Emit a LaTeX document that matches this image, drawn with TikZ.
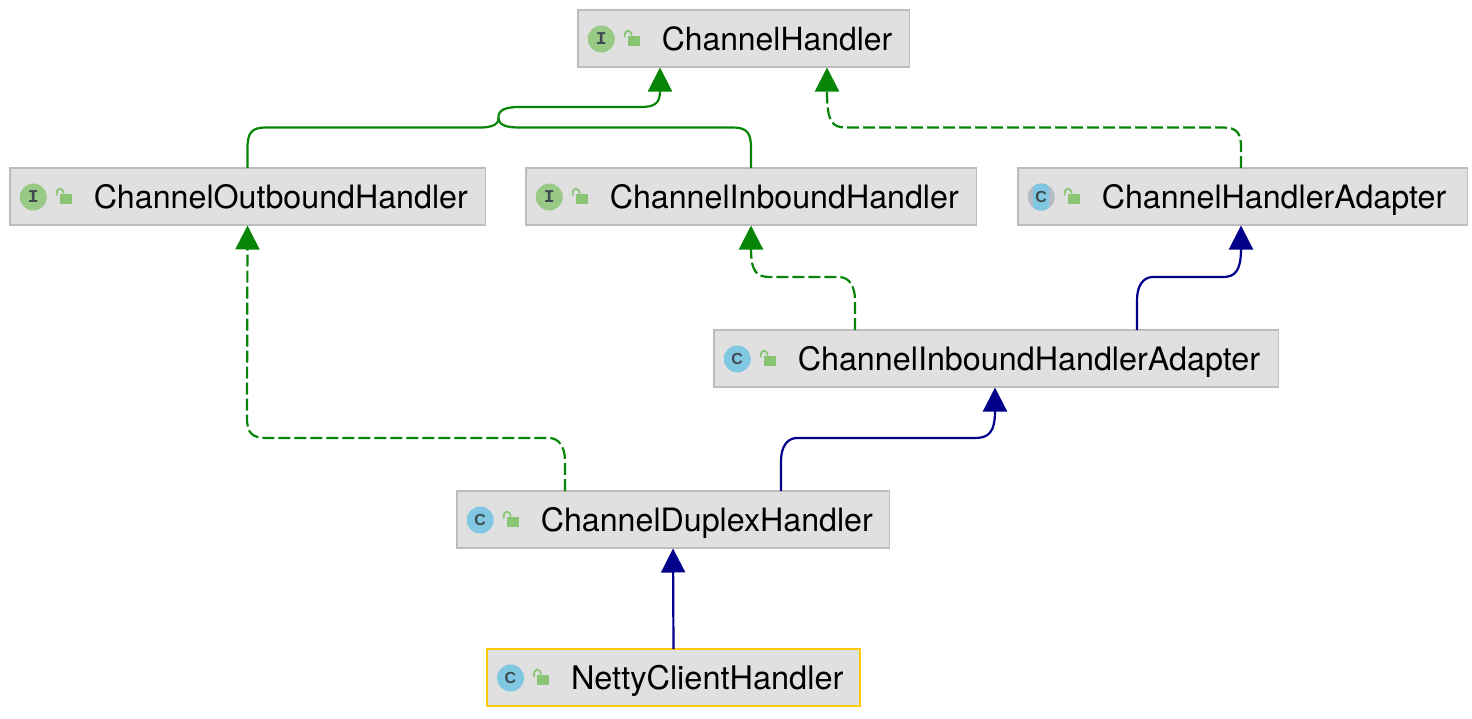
\documentclass[tikz,border=0pt]{standalone}
\usepackage{fontspec}
\setmainfont{TeX Gyre Heros}
\newfontfamily\iconmono{Liberation Mono}
\newfontfamily\iconsans{Liberation Sans}
\usetikzlibrary{arrows.meta}
\definecolor{boxfill}{HTML}{E0E0E0}
\definecolor{boxedge}{HTML}{BDBDBD}
\definecolor{selectedge}{HTML}{FDCB0A}
\definecolor{implgreen}{HTML}{078507}
\definecolor{extblue}{HTML}{00008B}
\definecolor{ifacegreen}{HTML}{98C985}
\definecolor{classblue}{HTML}{80C8E2}
\definecolor{abstractgrey}{HTML}{B4BBC4}
\definecolor{lockgreen}{HTML}{8AC575}
\definecolor{glyph}{HTML}{3F4A50}
\tikzset{
  x=1pt, y=-1pt,
  umlbox/.style={draw=boxedge, fill=boxfill, line width=1.5pt, inner sep=0pt, outer sep=0pt,
    minimum height=57pt, text height=28pt, text depth=5pt, align=left},
  labelsize/.style={font=\fontsize{#1pt}{34pt}\selectfont},
  selected/.style={draw=selectedge, line width=2pt},
  link/.style={line width=2.2pt, -{Triangle[length=24pt,width=24pt]}, shorten >=0.5pt},
  impl/.style={link, implgreen, dash pattern=on 12pt off 4pt},
  inherit/.style={link, extblue},
  implsolid/.style={link, implgreen},
  badgeglyph/.style={inner sep=0pt, text=glyph}
}
% Padlock drawn relative to the left edge of a class box
\newcommand{\lockicon}[1]{%
  \fill[lockgreen] ([shift={(50,-2.5)}]#1.west) rectangle ([shift={(62,7.5)}]#1.west);
  \draw[lockgreen, line width=1.8pt] ([shift={(47,-1)}]#1.west) .. controls ([shift={(46,-9.5)}]#1.west) and ([shift={(53,-10)}]#1.west) .. ([shift={(54,-3)}]#1.west);
}
% Kind badges: interface, class, abstract class
\newcommand{\ifacebadge}[2]{%
  \node[circle, fill=ifacegreen, minimum size=27pt, inner sep=0pt] (#2) at ([xshift=23.5pt,yshift=-0.5pt]#1.west) {};
  \node[badgeglyph, font=\iconmono\bfseries\fontsize{18pt}{18pt}\selectfont] (#2t) at (#2) {I};
  \lockicon{#1}
}
\newcommand{\classbadge}[2]{%
  \node[circle, fill=classblue, minimum size=27pt, inner sep=0pt] (#2) at ([xshift=23.5pt,yshift=-0.5pt]#1.west) {};
  \node[badgeglyph, font=\iconsans\bfseries\fontsize{16pt}{16pt}\selectfont] (#2t) at (#2) {C};
  \lockicon{#1}
}
\newcommand{\abstractbadge}[2]{%
  \node[circle, fill=abstractgrey, minimum size=27pt, inner sep=0pt] (#2) at ([xshift=23.5pt,yshift=-0.5pt]#1.west) {};
  \begin{scope}
    \clip (#2.center) circle[radius=13.5pt];
    \fill[classblue] ([xshift=-8pt,yshift=-14pt]#2.center) rectangle ([xshift=8pt,yshift=14pt]#2.center);
  \end{scope}
  \node[badgeglyph, font=\iconsans\bfseries\fontsize{16pt}{16pt}\selectfont] (#2t) at (#2) {C};
  \lockicon{#1}
}
\begin{document}
\begin{tikzpicture}
\useasboundingbox (0,0) rectangle (1472,718);

\node[umlbox, labelsize=31.9, text width=331.5pt] (handler) at (743.5,38.5) {\hspace*{84pt}ChannelHandler};
\node[umlbox, labelsize=32.2, text width=475.5pt] (outbound) at (247.5,196.5) {\hspace*{84pt}ChannelOutboundHandler};
\node[umlbox, labelsize=32.2, text width=450.5pt] (inbound) at (751,196.5) {\hspace*{84pt}ChannelInboundHandler};
\node[umlbox, labelsize=32.2, text width=449.5pt] (adapter) at (1242.5,196.5) {\hspace*{84pt}ChannelHandlerAdapter};
\node[umlbox, labelsize=32.3, text width=564.5pt] (inadapter) at (996,358.5) {\hspace*{84pt}ChannelInboundHandlerAdapter};
\node[umlbox, labelsize=32.2, text width=432.5pt] (duplex) at (673,519.5) {\hspace*{84pt}ChannelDuplexHandler};
\node[umlbox, labelsize=32.5, selected, text width=373pt] (netty) at (673.5,677.5) {\hspace*{84pt}NettyClientHandler};

\ifacebadge{handler}{b1}
\ifacebadge{outbound}{b2}
\ifacebadge{inbound}{b3}
\abstractbadge{adapter}{b4}
\classbadge{inadapter}{b5}
\classbadge{duplex}{b6}
\classbadge{netty}{b7}

% Two interface edges that merge just under the root
\draw[implsolid] (outbound.north) -- ++(0,-20)
  .. controls ++(0,-15) and ++(-14,0) .. ++(18,-20.5)
  -- ++(215,0)
  .. controls (488,127.5) and (499,126) .. (498.5,118)
  .. controls (498,110) and (505,107) .. (520,107)
  -- (640,107)
  .. controls (654,107) and (660,104) .. ([xshift=-83.5pt]handler.south);
\draw[implgreen, line width=2.2pt] (inbound.north) -- ++(0,-20)
  .. controls ++(0,-15) and ++(14,0) .. ++(-18,-20.5)
  -- (520,127.5)
  .. controls (508,127.5) and (499,126) .. (498.5,118);

\draw[impl] (adapter.north) ++(-1.5,0) -- ++(0,-20)
  .. controls ++(0,-15) and ++(14,0) .. ++(-18,-20.5)
  -- (846,127.5)
  .. controls (832,127.5) and (827,122) .. ([xshift=83.5pt]handler.south);

\draw[inherit] ([xshift=141pt]inadapter.north) -- ++(0,-30)
  .. controls ++(0,-14) and ++(-10,0) .. ++(16,-23)
  -- ++(70,0)
  .. controls (1234,277) and (1241,272) .. ([xshift=-1.5pt]adapter.south);

\draw[impl] ([xshift=-141pt]inadapter.north) -- ++(0,-30)
  .. controls ++(0,-14) and ++(10,0) .. ++(-16,-23)
  -- (770,277)
  .. controls (757,277) and (751,272) .. (inbound.south);

\draw[impl] ([xshift=-108pt]duplex.north) -- ++(0,-30)
  .. controls ++(0,-14) and ++(10,0) .. ++(-16,-23)
  -- (267,438)
  .. controls (252,438) and (247,433) .. (247,418)
  -- (outbound.south);

\draw[inherit] ([xshift=108pt]duplex.north) -- ++(0,-30)
  .. controls ++(0,-14) and ++(-10,0) .. ++(16,-23)
  -- (975,438)
  .. controls (988,438) and (995,433) .. ([xshift=-1pt]inadapter.south);

\draw[inherit] (netty.north) -- (duplex.south);
\end{tikzpicture}
\end{document}
